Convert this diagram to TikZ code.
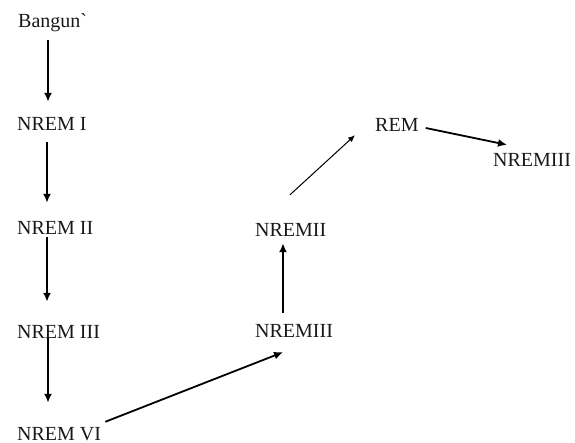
\documentclass[tikz,border=0pt]{standalone}
\usepackage{fontspec}
\setmainfont{Liberation Serif}
\usetikzlibrary{arrows.meta, positioning, calc}

\begin{document}
\begin{tikzpicture}[
    x=1pt,
    y=-1pt,
    stage/.style={
        anchor=base west,
        inner sep=0pt,
        text height=14pt,
        text depth=4pt,
        font=\fontsize{20}{24}\selectfont,
        text=black!90
    },
    line/.style={
        draw,
        -{Latex[length=9pt,width=8pt]},
        line width=1.8pt
    },
    thinline/.style={
        draw,
        -{Latex[length=7pt,width=6pt]},
        line width=1pt
    }
]
\useasboundingbox (0,0) rectangle (575,443);

% Nodes
\node [stage] (bangun) at (18,28) {Bangun\textasciigrave};
\node [stage] (n1) at (17,131) {NREM I};
\node [stage] (n2) at (17,235) {NREM II};
\node [stage] (n3) at (17,338) {NREM III};
\node [stage] (n4) at (17,440) {NREM VI};
\node [stage] (m3) at (255,337) {NREMIII};
\node [stage] (m2) at (255,237) {NREMII};
\node [stage] (rem) at (375,132) {REM};
\node [stage] (m1) at (493,167) {NREMIII};

% Paths
\path [line] ($(bangun.south west)+(30,8)$) -- ($(n1.north west)+(31,-15)$);
\path [line] ($(n1.south west)+(30,7)$) -- ($(n2.north west)+(30,-18)$);
\path [line] ($(n2.south west)+(30,-2)$) -- ($(n3.north west)+(30,-22)$);
\path [line] ($(n3.south west)+(31,-4)$) -- ($(n4.north west)+(31,-23)$);
\path [line] ($(n4.north east)+(4,-4)$) -- ($(m3.south west)+(28,11)$);
\path [line] ($(m3.north west)+(28,-10)$) -- ($(m2.south west)+(28,2)$);
\path [thinline] ($(m2.north west)+(35,-28)$) -- ($(rem.south west)+(-20,-1)$);
\path [line] ($(rem.east)+(7,1)$) -- ($(m1.north west)+(14,-8)$);

\end{tikzpicture}
\end{document}
